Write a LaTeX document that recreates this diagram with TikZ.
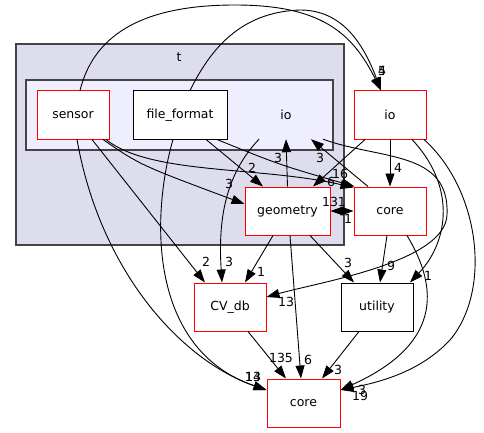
\documentclass[tikz,border=0pt]{standalone}
\usepackage{fontspec}
\setmainfont{DejaVu Sans}
\usetikzlibrary{arrows.meta}
\definecolor{clouter}{HTML}{DDDDEE}
\definecolor{clinner}{HTML}{EEEEFF}
\definecolor{clborder}{HTML}{444444}
\begin{document}
\begin{tikzpicture}[x=1pt,y=-1pt,
  txt/.style={font=\fontsize{12.5}{15}\selectfont},
  dirbox/.style={txt,draw=red,fill=white,line width=1pt,minimum width=72pt,minimum height=48pt,inner sep=0pt},
  dirblack/.style={dirbox,draw=black},
  lbl/.style={txt,inner sep=0pt},
  dep/.style={draw=black,line width=0.9pt,-{Triangle[length=13pt,width=9pt]}},
  bidep/.style={draw=black,line width=0.9pt,{Triangle[length=13pt,width=9pt]}-{Triangle[length=13pt,width=9pt]}},
  clu/.style={draw=clborder,line width=1.3pt,inner sep=0pt}
]
\useasboundingbox (0,0) rectangle (484,433);
\fill[white] (0,0) rectangle (484,433);

% clusters
\node[clu,fill=clouter,minimum width=328pt,minimum height=201pt] (tclu) at (180,144.5) {};
\node[lbl] (tlab) at (179,57) {t};
\node[clu,fill=clinner,minimum width=307pt,minimum height=70pt] (ioclu) at (179.5,115) {};

% nodes
\node[dirbox] (sensor) at (73,115) {sensor};
\node[dirblack,minimum width=94pt] (ff) at (180,115) {file\_format};
\node[txt,minimum width=76pt,minimum height=48pt,inner sep=0pt] (ioin) at (286,115) {io};
\node[dirbox] (ioout) at (390,115) {io};
\node[dirbox,minimum width=85pt] (geom) at (287.5,211) {geometry};
\node[dirbox] (coremid) at (390,211) {core};
\node[dirbox] (cvdb) at (230,307) {CV\_db};
\node[dirblack] (util) at (377,307) {utility};
\node[dirbox,minimum width=73pt] (corebot) at (303.5,403) {core};

% edges
\draw[dep] ([xshift=7pt]sensor.north) .. controls (95,30) and (150,5) .. (235,5)
   .. controls (320,5) and (352,32) .. ([xshift=-9pt]ioout.north);
\draw[dep] ([xshift=10pt]ff.north) .. controls (210,50) and (240,12) .. (300,10)
   .. controls (340,10) and (362,40) .. ([xshift=-9pt]ioout.north);
\draw[dep] ([xshift=30pt]sensor.south) .. controls (140,165) .. ([yshift=7pt]geom.west);
\draw[dep] ([xshift=33pt]sensor.south) .. controls (150,175) and (260,166) .. ([yshift=-1pt]coremid.north west);
\draw[dep] ([xshift=37pt]ff.south) .. controls (280,165) .. ([xshift=1pt]coremid.north west);
\draw[dep] ([xshift=26pt]ff.south) -- ([xshift=-24.5pt]geom.north);
\draw[dep] ([xshift=19pt]sensor.south) -- ([xshift=-25pt]cvdb.north);
\draw[dep] ([xshift=4pt]sensor.south) .. controls (100,270) and (180,360) .. ([yshift=13pt]corebot.west);
\draw[dep] ([xshift=-7pt]ff.south) .. controls (150,220) and (150,350) .. ([yshift=13pt]corebot.west);
\draw[dep] ([xshift=-27pt]ioin.south) .. controls (225,175) and (218,220) .. ([xshift=-8pt]cvdb.north);
\draw[dep] (geom.north) -- (ioin.south);
\draw[dep] ([xshift=-22pt]coremid.north) -- ([xshift=25pt]ioin.south);
\draw[dep] ([xshift=37pt]ioin.south) .. controls (380,160) and (450,150) .. (447,215)
   .. controls (445,262) and (320,282) .. ([yshift=10pt]cvdb.east);
\draw[dep] ([xshift=-25pt]ioout.south) -- ([xshift=25.5pt]geom.north);
\draw[dep] (ioout.south) -- (coremid.north);
\draw[dep] ([xshift=22pt]ioout.south) .. controls (455,185) and (450,240) .. ([xshift=33pt]util.north);
\draw[dep] ([xshift=34pt]ioout.south) .. controls (480,190) and (492,290) .. (450,340)
   .. controls (420,372) and (380,382) .. ([yshift=13pt]corebot.east);
\draw[dep] ([xshift=17pt]coremid.south) .. controls (440,290) and (440,345) .. ([yshift=13pt]corebot.east);
\draw[bidep] (geom.east) -- (coremid.west);
\draw[dep] ([xshift=-14.5pt]geom.south) -- ([xshift=15pt]cvdb.north);
\draw[dep] ([xshift=22.5pt]geom.south) -- ([xshift=-23pt]util.north);
\draw[dep] ([xshift=2.5pt]geom.south) -- ([xshift=-2.5pt]corebot.north);
\draw[dep] ([xshift=-3pt]coremid.south) -- ([xshift=3pt]util.north);
\draw[dep] ([xshift=18pt]cvdb.south) -- ([xshift=-17.5pt]corebot.north);
\draw[dep] ([xshift=-18pt]util.south) -- ([xshift=18.5pt]corebot.north);

% edge labels
\node[lbl] (la) at (382,71) {5};
\node[lbl] (lb) at (382,71) {4};
\node[lbl] (lc) at (229,184) {3};
\node[lbl] (ld) at (252,168) {2};
\node[lbl] (le) at (278,158) {3};
\node[lbl] (lf) at (320,158) {3};
\node[lbl] (lg) at (340,174) {16};
\node[lbl] (lh) at (331,182) {6};
\node[lbl] (li) at (398,168) {4};
\node[lbl] (lj) at (334,202) {131};
\node[lbl] (lk) at (348,219) {1};
\node[lbl] (ll) at (206,262) {2};
\node[lbl] (lm) at (229,262) {3};
\node[lbl] (ln) at (261,272) {1};
\node[lbl] (lo) at (286,302) {13};
\node[lbl] (lp) at (348,263) {3};
\node[lbl] (lq) at (391,266) {9};
\node[lbl] (lr) at (428,276) {1};
\node[lbl] (ls) at (281,358) {135};
\node[lbl] (lt) at (308,360) {6};
\node[lbl] (lu) at (338,370) {3};
\node[lbl] (lv) at (253,377) {13};
\node[lbl] (lw) at (253,377) {14};
\node[lbl] (lx) at (362,390) {3};
\node[lbl] (ly) at (360,396) {19};
\end{tikzpicture}
\end{document}
